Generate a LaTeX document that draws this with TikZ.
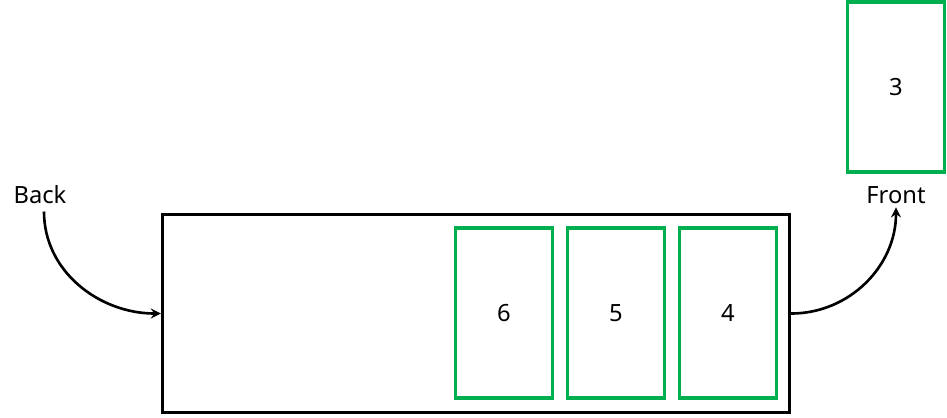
\documentclass[tikz,border=0pt]{standalone}
\usepackage{fontspec}
\setmainfont{Noto Sans}
\usepackage{xcolor}
\definecolor{qgreen}{HTML}{00B050}
\usetikzlibrary{arrows}

\begin{document}
\begin{tikzpicture}[>=stealth, x=0.02cm, y=-0.02cm,
	elem/.style={draw=qgreen, line width=1.9pt, minimum width=1.94cm, minimum height=3.4cm, inner sep=0pt},
	lbl/.style={font=\fontsize{13.5}{16}\selectfont, inner sep=2pt},
	link/.style={->, line width=1.5pt}]
	\useasboundingbox (0,0) rectangle (947,417);
	% queue
	\node (queue) at (476,313.5) [draw, line width=2pt, minimum width=12.54cm, minimum height=3.96cm, inner sep=0pt] {};
	\node (e6) at (504,313) [elem, lbl] {6};
	\node (e5) at (616,313) [elem, lbl] {5};
	\node (e4) at (728,313) [elem, lbl] {4};
	% removed element
	\node (e3) at (896,87) [elem, lbl] {3};
	% labels
	\node (back) at (40,195) [lbl] {Back};
	\node (front) at (896,195) [lbl] {Front};
	\draw[link] ([xshift=0.08cm, yshift=-2pt]back.south) to[out=-90, in=180] (queue.west);
	\draw[link] (queue.east) to[out=0, in=-90] (front.south);
\end{tikzpicture}
\end{document}
